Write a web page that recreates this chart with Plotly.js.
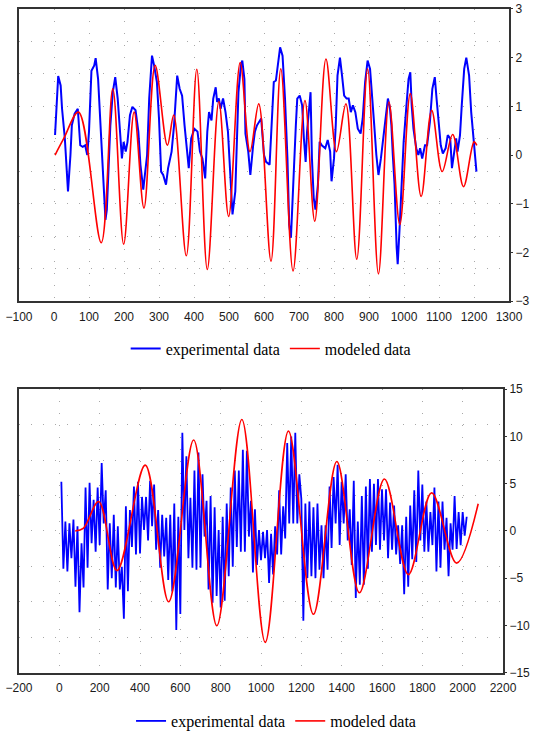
<!DOCTYPE html>
<html><head><meta charset="utf-8">
<script src="https://cdn.plot.ly/plotly-3.0.1.min.js"></script>
<style>html,body{margin:0;padding:0;background:#fff}#chart{width:536px;height:738px}</style>
</head><body><div id="chart"></div>
<script>
// ---- Top chart data ----
const expTopX = [3,12,19,23,31,37,40,47,51,59,68,75,82,89,95,100,107,115,119,126,131,137,143,147,151,156,161,168,175,182,188,194,199,205,210,217,224,233,241,247,255,261,266,272,280,286,294,300,306,312,320,326,336,343,352,359,366,373,380,385,392,401,410,417,424,432,438,443,450,455,462,466,471,476,483,490,497,504,510,518,522,527,534,538,544,547,555,561,569,574,580,592,600,606,616,622,628,634,639,646,653,660,667,672,677,681,686,691,695,702,709,714,719,723,728,733,737,742,747,754,759,765,775,782,789,793,800,805,810,817,823,829,836,842,848,854,861,868,876,882,889,896,903,908,915,921,927,934,941,948,954,960,964,968,973,979,982,987,992,999,1007,1013,1018,1022,1027,1035,1041,1046,1052,1060,1066,1074,1081,1088,1093,1099,1105,1111,1119,1125,1132,1137,1144,1149,1153,1160,1165,1172,1178,1186,1192,1198,1203,1207];
const expTopY = [0.41,1.62,1.43,0.95,0.34,-0.51,-0.75,0,0.61,0.85,0.95,0.2,0.17,0.2,0,0.48,1.73,1.84,1.99,1.56,0.88,-0.14,-1.02,-1.33,-1.12,-0.34,0.61,1.29,1.6,1.16,0.48,-0.07,0.27,0.07,0.27,0.82,0.99,0.92,0.48,-0.2,-0.71,-0.34,0,1.16,2.04,1.84,1.5,0.75,-0.34,-0.41,-0.61,-0.27,0.07,0.61,1.63,1.36,1.22,0.61,0,-0.27,0.34,0.54,0.48,0.07,-0.07,-0.48,0.48,0.88,0.71,1.16,1.39,1.09,1.16,0.95,1.16,0.88,0.48,-0.61,-1.22,-0.75,0.2,1.29,1.84,1.94,1.56,0.44,0.07,-0.41,0.2,0.48,0.61,0.75,0,-0.14,-0.2,0.82,1.5,1.53,1.84,2.21,2.04,1.16,-0.07,-1.43,-1.7,-1.16,-0.2,0.61,1.16,1.22,1.02,0.34,-0.14,0.48,0.82,1.29,-0.07,-0.88,-1.12,-0.61,0.27,0.2,0.14,0.31,0.07,-0.54,-0.07,0.61,1.63,2.0,1.63,1.22,1.16,1.16,0.88,1.02,0.88,0.54,0.44,0.75,1.5,1.94,1.77,1.36,0.61,0,-0.41,-0.07,0.41,0.82,1.16,0.95,0.61,0,-0.61,-1.9,-2.24,-1.56,-0.75,0.27,1.02,1.56,1.7,1.02,0.54,0.14,0,0.14,-0.07,0.2,0.2,0.68,1.36,1.6,1.16,0.61,0.2,0.03,0.14,0.41,0.34,-0.27,0.14,0.34,0.07,0.41,1.02,1.77,2.0,1.63,0.88,0.34,-0.14,-0.34];
const modTopX = [3,28,70,135,168,199,229,257,289,324,342,378,408,438,471,499,532,560,585,620,648,683,717,745,777,807,834,865,896,927,957,988,1018,1049,1079,1109,1139,1170,1200,1208];
const modTopY = [0,0.34,0.88,-1.80,1.36,-1.83,0.88,-1.09,1.84,0.2,0.82,-2.07,1.76,-2.35,1.1,-1.26,1.9,0.07,1.05,-2.18,1.77,-2.38,1.12,-1.36,1.97,0.07,1.05,-2.14,1.77,-2.44,1.09,-1.43,1.26,-0.85,0.92,-0.34,0.42,-0.65,0.27,0.2];

// ---- Bottom chart data ----
const expBotX = [10,20,30,40,50,60,70,80,90,100,110,120,130,140,150,160,170,180,190,200,210,220,230,240,250,260,270,280,290,300,310,320,330,340,350,360,370,380,390,400,410,420,430,440,450,460,470,480,490,500,510,520,530,540,550,560,570,580,590,600,610,620,630,640,650,660,670,680,690,700,710,720,730,740,750,760,770,780,790,800,810,820,830,840,850,860,870,880,890,900,910,920,930,940,950,960,970,980,990,1000,1010,1020,1030,1040,1050,1060,1070,1080,1090,1100,1110,1120,1130,1140,1150,1160,1170,1180,1190,1200,1210,1220,1230,1240,1250,1260,1270,1280,1290,1300,1310,1320,1330,1340,1350,1360,1370,1380,1390,1400,1410,1420,1430,1440,1450,1460,1470,1480,1490,1500,1510,1520,1530,1540,1550,1560,1570,1580,1590,1600,1610,1620,1630,1640,1650,1660,1670,1680,1690,1700,1710,1720,1730,1740,1750,1760,1770,1780,1790,1800,1810,1820,1830,1840,1850,1860,1870,1880,1890,1900,1910,1920,1930,1940,1950,1960,1970,1980,1990,2000,2010,2020];
const expBotY = [5.2,-4.0,1.0,-4.3,0.8,-2.9,1.2,-5.9,0.5,-8.6,
 -1.3,-6.0,4.6,-3.9,5.1,-1.3,3.3,-2.2,4.6,-1.5,
 7.2,0.8,4.3,-6.2,0.8,-5.0,1.7,-6.0,0.5,-6.2,
 -3.8,-9.3,2.6,-6.4,2.2,-1.7,4.7,-2.5,5.2,-2.4,
 3.6,0.1,3.6,-1.0,5.3,0.5,4.9,-2.0,2.2,-3.9,
 1.7,-2.7,1.4,-5.2,1.7,-6.4,2.9,-10.5,1.5,-8.8,
 10.4,0.1,7.9,-2.9,3.5,-3.9,6.4,-4.1,8.3,-3.9,
 6.0,-0.6,3.2,-6.2,3.7,-7.6,2.5,-6.9,0.1,-8.1,
 1.5,-7.4,2.9,-4.8,4.6,-3.8,6.4,-1.7,6.4,-2.2,
 8.6,-2.2,8.5,-0.6,3.2,-4.4,2.3,-3.6,0.1,-3.1,
 -0.1,-2.9,0.1,-5.5,-0.3,-4.6,0.5,-2.5,4.3,-2.5,
 2.6,-0.8,9.3,0.8,10.0,0.8,10.4,0.8,6.0,3.4,
 -9.5,2.9,-5.0,3.1,-4.8,2.5,-5.0,2.9,-4.1,0.6,
 -5.0,0.6,-4.1,4.7,-1.8,5.7,0.8,7.0,-1.5,5.2,
 0.8,6.0,-1.0,2.3,-3.6,5.3,-7.1,1.0,-5.7,3.7,
 -5.7,4.7,-4.0,5.5,-2.2,5.0,-1.5,5.5,-2.0,4.4,
 -1.0,4.4,-2.9,3.0,-2.0,2.7,-2.5,0.6,-3.5,0.6,
 -6.7,1.5,-5.9,2.7,-3.0,4.3,-3.3,6.4,-1.0,4.9,
 -2.2,3.1,-2.2,2.0,-1.5,4.6,-4.3,3.1,-3.9,3.1,
 -2.0,1.4,-4.8,0.8,-2.0,3.7,-1.9,2.0,-1.5,2.0,-0.5,1.5];
const modBotX = [79,120,195,286,426,542,666,781,905,1021,1136,1260,1376,1488,1612,1731,1846,1970,2077];
const modBotY = [0,0.3,3.12,-4.2,6.97,-7.5,9.62,-10.05,11.8,-11.8,10.57,-8.83,7.35,-6.55,5.5,-4.63,4.03,-3.41,2.88];

const topXTicks = {range:[-100,1300], dtick:100};
const botXTicks = {range:[-200,2200], dtick:200};
const seriesNames = ['experimental data','modeled data'];

const W = 536, H = 738;
const tickFont = {family:'Arial, "Liberation Sans", sans-serif', size:12, color:'#1a1a1a'};
const gridStyle = {showgrid:true, gridcolor:'#a8a8a8', griddash:'1px,11px', gridwidth:1};
const frame = {showline:true, mirror:true, linecolor:'#333333', linewidth:2, zeroline:false};

const traces = [
  {x:expTopX, y:expTopY, xaxis:'x', yaxis:'y', name:seriesNames[0], mode:'lines', line:{color:'#0000ff', width:2}, legend:'legend'},
  {x:modTopX, y:modTopY, xaxis:'x', yaxis:'y3', name:seriesNames[1], mode:'lines', line:{color:'#ff0000', width:1.6, shape:'spline', smoothing:1}, legend:'legend'},
  {x:expBotX, y:expBotY, xaxis:'x2', yaxis:'y2', name:seriesNames[0], mode:'lines', line:{color:'#0000ff', width:1.8}, legend:'legend2'},
  {x:modBotX, y:modBotY, xaxis:'x2', yaxis:'y4', name:seriesNames[1], mode:'lines', line:{color:'#ff0000', width:1.6, shape:'spline', smoothing:1}, legend:'legend2'}
];

const legendFont = {family:'"Liberation Serif", "Times New Roman", serif', size:16, color:'#000'};

const layout = {
  width:W, height:H, margin:{l:0,r:0,t:0,b:0},
  paper_bgcolor:'#fff', plot_bgcolor:'#fff', showlegend:true,
  xaxis: Object.assign({domain:[19/W, 509/W], anchor:'y', range:topXTicks.range, dtick:topXTicks.dtick, tick0:0,
    ticks:'outside', ticklen:3, tickcolor:'rgba(0,0,0,0)', tickfont:tickFont}, gridStyle, frame),
  yaxis: Object.assign({domain:[1-304/H, 1-9/H], anchor:'x', range:[-3,3], dtick:2/3, tick0:-3,
    showticklabels:false, ticks:''}, gridStyle, frame),
  yaxis3: {overlaying:'y', anchor:'x', side:'right', range:[-3,3], dtick:1, tick0:0, showgrid:false, zeroline:false,
    ticks:'outside', ticklen:3, tickcolor:'#333333', tickfont:tickFont, showline:false},
  xaxis2: Object.assign({domain:[19/W, 503/W], anchor:'y2', range:botXTicks.range, dtick:botXTicks.dtick, tick0:0,
    ticks:'outside', ticklen:3, tickcolor:'rgba(0,0,0,0)', tickfont:tickFont}, gridStyle, frame),
  yaxis2: Object.assign({domain:[1-679/H, 1-393/H], anchor:'x2', range:[-15,15], dtick:3.75, tick0:-15,
    showticklabels:false, ticks:''}, gridStyle, frame),
  yaxis4: {overlaying:'y2', anchor:'x2', side:'right', range:[-15,15], dtick:5, tick0:0, showgrid:false, zeroline:false,
    ticks:'outside', ticklen:3, tickcolor:'#333333', tickfont:tickFont, showline:false},
  legend: {orientation:'h', x:0.505, xanchor:'center', y:1-352/H, yanchor:'middle', font:legendFont, bgcolor:'rgba(0,0,0,0)'},
  legend2: {orientation:'h', x:0.515, xanchor:'center', y:1-728/H, yanchor:'middle', font:legendFont, bgcolor:'rgba(0,0,0,0)'}
};

Plotly.newPlot('chart', traces, layout, {displayModeBar:false, staticPlot:true});
</script></body></html>
